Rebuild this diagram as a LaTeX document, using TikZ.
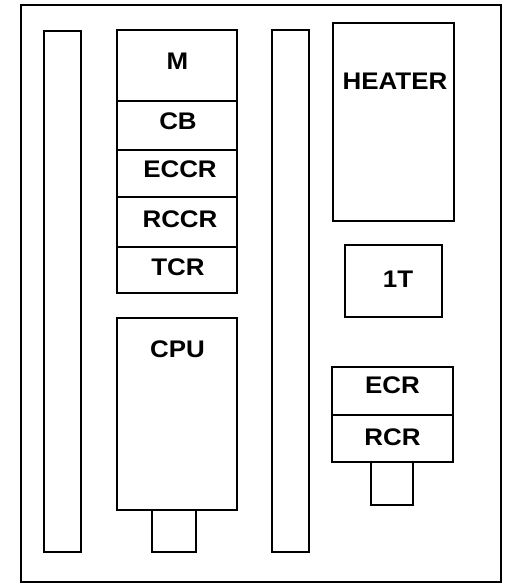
\documentclass[tikz,border=0pt]{standalone}
\usepackage{fontspec}
\newfontfamily\lblfont[FakeStretch=1.08]{Liberation Sans}
\begin{document}
\begin{tikzpicture}[x=1pt,y=-1pt,
  box/.style={draw=black,line width=1.7pt},
  lbl/.style={anchor=base,inner sep=0pt,font=\lblfont\fontsize{24}{28}\selectfont\bfseries}]
\useasboundingbox (0,0) rectangle (508,588);
% outer frame
\draw[box] (21,5) rectangle (501,582);
% bars
\draw[box] (44,31) rectangle (81,552);
\draw[box] (272,30) rectangle (309,552);
% middle stack
\draw[box] (117,30) rectangle (237,101);
\draw[box] (117,101) rectangle (237,150);
\draw[box] (117,150) rectangle (237,197);
\draw[box] (117,197) rectangle (237,247);
\draw[box] (117,247) rectangle (237,293);
\node[lbl] (m) at (177.5,70) {M};
\node[lbl] (cb) at (178,130) {CB};
\node[lbl] (eccr) at (180,178) {ECCR};
\node[lbl] (rccr) at (180,227) {RCCR};
\node[lbl] (tcr) at (178,275) {TCR};
% CPU
\draw[box] (117,318) rectangle (237,510);
\draw[box] (152,510) rectangle (196,552);
\node[lbl] (cpu) at (177.5,357) {CPU};
% heater
\draw[box] (333,23) rectangle (454,221);
\node[lbl] (heater) at (395,90) {HEATER};
% 1T
\draw[box] (345,245) rectangle (442,317);
\node[lbl] (t1) at (398,287) {1T};
% ECR / RCR
\draw[box] (332,367) rectangle (453,415);
\draw[box] (332,415) rectangle (453,462);
\draw[box] (371,462) rectangle (413,505);
\node[lbl] (ecr) at (392.5,393) {ECR};
\node[lbl] (rcr) at (392.5,445) {RCR};
\end{tikzpicture}
\end{document}
